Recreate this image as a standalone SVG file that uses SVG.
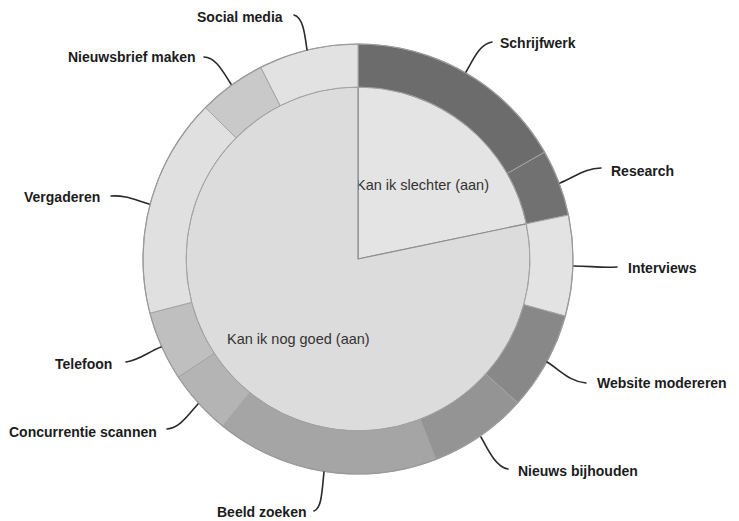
<svg xmlns="http://www.w3.org/2000/svg" width="739" height="521" viewBox="0 0 739 521">
  <style>
    .seg { stroke: #a4a4a4; stroke-width: 1; stroke-linejoin: round; }
    .pie { stroke: #8e8e8e; stroke-width: 1.2; stroke-linejoin: round; }
    .lead { fill: none; stroke: #2a2a2a; stroke-width: 1.6; stroke-linecap: round; }
    .lbl { font-family: "Liberation Sans", Arial, sans-serif; font-weight: bold; font-size: 14px; fill: #1c1c1c; }
    .in { font-family: "Liberation Sans", Arial, sans-serif; font-size: 14.5px; fill: #333333; }
  </style>
  <rect width="739" height="521" fill="#ffffff"/>

  <!-- inner pie: two halves of the answer -->
  <g id="inner-slechter">
    <path class="pie" fill="#e4e4e4" d="M358 259 L358 87 A172 172 0 0 1 526.37 223.83 Z"/>
    <text class="in" x="356" y="190">Kan ik slechter (aan)</text>
  </g>
  <g id="inner-goed">
    <path class="pie" fill="#dcdcdc" d="M358 259 L526.37 223.83 A172 172 0 1 1 358 87 Z"/>
    <text class="in" x="227" y="344">Kan ik nog goed (aan)</text>
  </g>

  <!-- outer ring segments, clockwise from the top -->
  <g id="seg-schrijfwerk">
    <path class="seg" fill="#6c6c6c" d="M358 44 A215 215 0 0 1 544.58 152.14 L507.26 173.52 A172 172 0 0 0 358 87 Z"/>
  </g>
  <g id="seg-research">
    <path class="seg" fill="#717171" d="M544.58 152.14 A215 215 0 0 1 568.46 215.03 L526.37 223.83 A172 172 0 0 0 507.26 173.52 Z"/>
  </g>
  <g id="seg-interviews">
    <path class="seg" fill="#e3e3e3" d="M568.46 215.03 A215 215 0 0 1 565.28 316.10 L523.83 304.68 A172 172 0 0 0 526.37 223.83 Z"/>
  </g>
  <g id="seg-website">
    <path class="seg" fill="#888888" d="M565.28 316.10 A215 215 0 0 1 517.77 402.86 L485.81 374.09 A172 172 0 0 0 523.83 304.68 Z"/>
  </g>
  <g id="seg-nieuws">
    <path class="seg" fill="#949494" d="M517.77 402.86 A215 215 0 0 1 435.74 459.44 L420.20 419.36 A172 172 0 0 0 485.81 374.09 Z"/>
  </g>
  <g id="seg-beeld">
    <path class="seg" fill="#a5a5a5" d="M435.74 459.44 A215 215 0 0 1 222.70 426.08 L249.76 392.66 A172 172 0 0 0 420.20 419.36 Z"/>
  </g>
  <g id="seg-concurrentie">
    <path class="seg" fill="#b4b4b4" d="M222.70 426.08 A215 215 0 0 1 178.30 377.04 L214.24 353.43 A172 172 0 0 0 249.76 392.66 Z"/>
  </g>
  <g id="seg-telefoon">
    <path class="seg" fill="#bfbfbf" d="M178.30 377.04 A215 215 0 0 1 149.94 313.20 L191.56 302.36 A172 172 0 0 0 214.24 353.43 Z"/>
  </g>
  <g id="seg-vergaderen">
    <path class="seg" fill="#e0e0e0" d="M149.94 313.20 A215 215 0 0 1 205.44 107.51 L235.95 137.81 A172 172 0 0 0 191.56 302.36 Z"/>
  </g>
  <g id="seg-nieuwsbrief">
    <path class="seg" fill="#c9c9c9" d="M205.44 107.51 A215 215 0 0 1 260.73 67.26 L280.19 105.61 A172 172 0 0 0 235.95 137.81 Z"/>
  </g>
  <g id="seg-social">
    <path class="seg" fill="#e2e2e2" d="M260.73 67.26 A215 215 0 0 1 358 44 L358 87 A172 172 0 0 0 280.19 105.61 Z"/>
  </g>

  <!-- outer rim -->
  <circle cx="358" cy="259" r="215" fill="none" stroke="#9a9a9a" stroke-width="1.2"/>

  <!-- leader lines -->
  <g id="connectors">
    <path class="lead" d="M466 72 C474 58 480 44 492 42"/>
    <path class="lead" d="M560 183 C575 177 585 168 601 168"/>
    <path class="lead" d="M574 266 C590 266 600 268 617 267"/>
    <path class="lead" d="M547 362 C560 370 570 382 586 383"/>
    <path class="lead" d="M481 437 C488 450 496 467 508 469"/>
    <path class="lead" d="M324 472 C322 490 322 508 314 511"/>
    <path class="lead" d="M198 404 C188 415 180 428 167 429"/>
    <path class="lead" d="M161 347 C148 352 140 360 126 362"/>
    <path class="lead" d="M149 204 C135 200 125 195 111 196"/>
    <path class="lead" d="M231 84 C222 70 215 57 204 57"/>
    <path class="lead" d="M307 50 C305 35 303 17 294 15"/>
  </g>

  <!-- labels -->
  <g id="label-schrijfwerk"><text class="lbl" x="500" y="48">Schrijfwerk</text></g>
  <g id="label-research"><text class="lbl" x="611" y="176">Research</text></g>
  <g id="label-interviews"><text class="lbl" x="628" y="273">Interviews</text></g>
  <g id="label-website"><text class="lbl" x="597" y="388">Website modereren</text></g>
  <g id="label-nieuws"><text class="lbl" x="518" y="476">Nieuws bijhouden</text></g>
  <g id="label-beeld"><text class="lbl" x="217" y="517">Beeld zoeken</text></g>
  <g id="label-concurrentie"><text class="lbl" x="9" y="437">Concurrentie scannen</text></g>
  <g id="label-telefoon"><text class="lbl" x="55" y="369">Telefoon</text></g>
  <g id="label-vergaderen"><text class="lbl" x="24" y="202">Vergaderen</text></g>
  <g id="label-nieuwsbrief"><text class="lbl" x="68" y="62">Nieuwsbrief maken</text></g>
  <g id="label-social"><text class="lbl" x="197" y="22">Social media</text></g>
</svg>
